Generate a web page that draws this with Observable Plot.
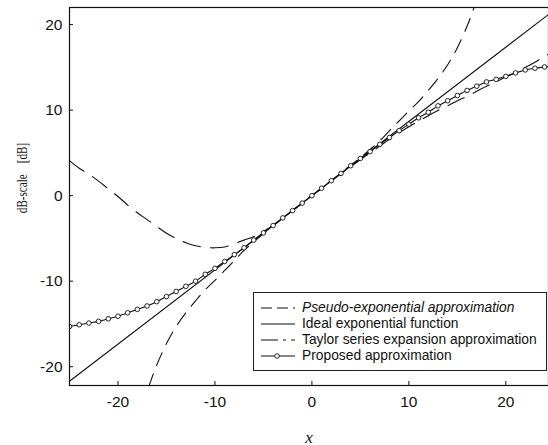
<!DOCTYPE html>
<html><head><meta charset="utf-8">
<script src="https://cdn.jsdelivr.net/npm/d3@7"></script>
<script src="https://cdn.jsdelivr.net/npm/@observablehq/plot@0.6"></script>
<style>
body{margin:0;background:#fff;}
#wrap{position:relative;width:548px;height:445px;overflow:hidden;}
.legend{position:absolute;left:253px;top:292px;width:292px;height:77px;border:1px solid #222;background:#fff;font-family:"Liberation Sans",Arial,sans-serif;font-size:13.8px;color:#111;}
.row{position:absolute;left:0;height:16px;line-height:16px;white-space:nowrap;}
.row svg{position:absolute;left:6px;top:3px;}
.row span{position:absolute;left:48px;top:0;}
.ylab{position:absolute;left:22px;top:178px;white-space:pre;font-family:"Liberation Serif","Times New Roman",serif;font-size:15px;color:#111;transform:translate(-50%,-50%) rotate(-90deg) scaleX(0.74);line-height:1;}
</style>
</head><body>
<div id="wrap"></div>
<script>
// ---- data ----
const propX = [-25,-24,-23,-22,-21,-20,-19,-18,-17,-16,-15,-14,-13,-12,-11,-10,-9,-8,-7,-6,-5,-4,-3,-2,-1,0,1,2,3,4,5,6,7,8,9,10,11,12,13,14,15,16,17,18,19,20,21,22,23,24,25];
const propY = [-15.3,-15.1,-14.9,-14.7,-14.4,-14.1,-13.7,-13.3,-12.9,-12.4,-11.8,-11.2,-10.6,-10.0,-9.2,-8.5,-7.7,-6.9,-6.1,-5.2,-4.35,-3.5,-2.6,-1.75,-0.87,0,0.87,1.75,2.6,3.5,4.35,5.15,6.0,6.8,7.6,8.35,9.1,9.75,10.5,11.1,11.7,12.3,12.8,13.3,13.6,13.95,14.35,14.7,14.9,15.05,15.2];
const taylorX = propX;
const taylorY = [4.1,3.2,2.5,1.7,0.8,-0.1,-1.1,-2.0,-2.8,-3.6,-4.4,-5.0,-5.5,-5.85,-6.05,-6.1,-6.0,-5.6,-5.2,-4.8,-4.2,-3.45,-2.6,-1.74,-0.87,0,0.87,1.73,2.58,3.4,4.2,5.0,5.8,6.6,7.35,8.05,8.7,9.35,9.95,10.5,11.1,11.6,12.2,12.8,13.3,13.9,14.4,15.0,15.6,16.3,16.9];
const pseudoX = [-17.4,-17,-16.5,-16,-15,-14,-13,-12,-11,-10,-9,-8,-7,-6,-5,-4,-2,0,2,4,5,6,7,8,9,10,11,12,13,14,15,16,16.5,17,17.4];
const pseudoY = [-25,-23.0,-21.3,-19.8,-17.3,-15.3,-13.7,-12.3,-11.0,-9.9,-8.75,-7.6,-6.4,-5.4,-4.45,-3.55,-1.75,0,1.75,3.55,4.45,5.4,6.4,7.6,8.75,9.9,11.0,12.3,13.7,15.3,17.3,19.8,21.3,23.0,25];
const idealX = [-25,25];
const idealY = [-21.7,21.7];
const xTicks = [-20,-10,0,10,20];
const yTicks = [-20,-10,0,10,20];
const legendLabels = ["Pseudo-exponential approximation","Ideal exponential function","Taylor series expansion approximation","Proposed approximation"];
const yLabel = "dB-scale    [dB]";
const xLabel = "x";

const toPts = (xs, ys) => xs.map((x,i)=>({x, y: ys[i]}));
const prop = toPts(propX, propY);
const taylor = toPts(taylorX, taylorY);
const pseudo = toPts(pseudoX, pseudoY);
const ideal = toPts(idealX, idealY);

const ink = "#111";
const dashPseudo = "14,9";
const dashTaylor = "18,10";

const chart = Plot.plot({
  width: 548, height: 445,
  marginLeft: 69, marginRight: 0, marginTop: 7, marginBottom: 60,
  style: {fontFamily: "'Liberation Sans', Arial, sans-serif", fontSize: "15.5px", color: ink, background: "#fff"},
  x: {domain: [-25, 24.4]},
  y: {domain: [-22.2, 22.0]},
  marks: [
    Plot.line(ideal, {x:"x", y:"y", stroke: ink, strokeWidth: 1.1, clip: true}),
    Plot.line(pseudo, {x:"x", y:"y", stroke: ink, strokeWidth: 1.1, strokeDasharray: dashPseudo, curve: "catmull-rom", clip: true}),
    Plot.line(taylor, {x:"x", y:"y", stroke: ink, strokeWidth: 1.1, strokeDasharray: dashTaylor, curve: "catmull-rom", clip: true}),
    Plot.line(prop, {x:"x", y:"y", stroke: ink, strokeWidth: 1.1, curve: "catmull-rom", clip: true}),
    Plot.dot(prop, {x:"x", y:"y", r: 2.3, stroke: ink, strokeWidth: 0.9, fill: "white", clip: true}),
    Plot.frame({stroke: ink, strokeWidth: 1.2}),
    Plot.axisY({ticks: yTicks, tickSize: -4, tickPadding: 11, label: null, tickFormat: d => String(d)}),
    Plot.axisX({ticks: xTicks, tickSize: -4, tickPadding: 14, label: null, tickFormat: d => String(d)}),
    Plot.text([xLabel], {frameAnchor: "bottom", dy: 57, fontFamily: "'Liberation Serif', 'Times New Roman', serif", fontStyle: "italic", fontSize: 17})
  ]
});
const wrap = document.getElementById("wrap");
wrap.appendChild(chart);

// y-axis title (compressed along its writing direction, as in the scanned original)
const yl = document.createElement("div");
yl.className = "ylab";
yl.textContent = yLabel;
wrap.appendChild(yl);

// legend overlay
const dashes = [dashPseudo, null, dashTaylor, null];
const leg = document.createElement("div");
leg.className = "legend";
legendLabels.forEach((lab, i) => {
  const row = document.createElement("div");
  row.className = "row";
  row.style.top = (7 + i*16) + "px";
  row.style.width = "290px";
  const marker = i === 3 ? `<circle cx="17" cy="5" r="2.3" fill="white" stroke="${ink}" stroke-width="0.9"/>` : "";
  row.innerHTML = `<svg width="36" height="10"><line x1="1" y1="5" x2="35" y2="5" stroke="${ink}" stroke-width="1.1" ${dashes[i] ? `stroke-dasharray="${i===0?'11,5':'17,5,3,5'}"` : ""}/>${marker}</svg><span style="${i===0?'font-style:italic':''}">${lab}</span>`;
  leg.appendChild(row);
});
wrap.appendChild(leg);
</script>
</body></html>
